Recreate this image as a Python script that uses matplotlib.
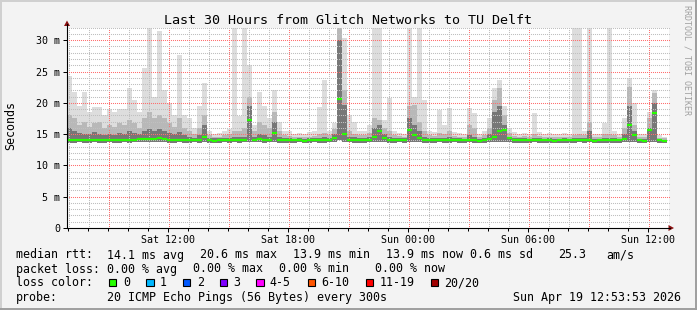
import numpy as np
import matplotlib.pyplot as plt
from matplotlib.patches import Rectangle, Polygon
from matplotlib.lines import Line2D
from matplotlib.transforms import IdentityTransform

W, H = 697, 310

# time axis: hours since Sat 00:00, 15 minute bins
t_start = 6.94
t_end = 37.04
bin_h = 0.25

# round trip times in ms, one value per bin
rtt_median = [
    14.1, 14.0, 14.0, 14.1, 14.0, 14.0, 14.1, 14.0, 14.0, 14.1, 14.0, 14.1,
    14.0, 14.1, 14.2, 14.2, 14.2, 14.2, 14.3, 14.2, 14.1, 14.1, 14.1, 14.0,
    14.0, 14.0, 14.1, 14.5, 14.0, 13.9, 14.0, 14.0, 14.0, 14.1, 14.0, 14.1,
    17.2, 14.1, 14.2, 14.1, 14.1, 15.2, 14.1, 14.0, 14.0, 14.0, 14.0, 13.9,
    14.0, 14.0, 14.0, 14.0, 14.0, 14.3, 20.6, 15.0, 14.1, 14.1, 14.0, 14.0,
    14.1, 14.6, 15.5, 14.3, 14.1, 14.0, 14.0, 14.0, 15.7, 14.8, 14.3, 14.1,
    14.1, 14.0, 14.0, 14.0, 14.0, 14.0, 14.0, 14.0, 14.1, 14.0, 13.9, 14.0,
    14.2, 14.6, 15.5, 15.7, 14.3, 14.0, 14.0, 14.0, 14.0, 14.0, 14.0, 14.0,
    14.0, 13.9, 14.0, 14.0, 14.0, 14.0, 14.0, 14.0, 14.1, 13.9, 14.0, 14.0,
    14.0, 14.0, 14.0, 14.2, 16.5, 14.8, 14.0, 13.9, 15.7, 18.4, 14.0, 13.9,
]
rtt_max = [
    24.3, 21.8, 19.5, 21.8, 18.5, 19.4, 19.3, 18.0, 19.0, 18.5, 19.0, 19.0,
    22.4, 20.5, 18.5, 25.5, 32.0, 21.0, 31.4, 22.0, 19.9, 18.0, 27.6, 18.0,
    17.5, 16.0, 19.5, 23.1, 15.5, 15.0, 15.2, 15.5, 15.8, 32.0, 17.9, 32.0,
    26.0, 16.5, 21.8, 19.5, 17.5, 22.0, 17.0, 15.5, 15.5, 15.0, 15.2, 15.0,
    15.3, 15.5, 19.4, 23.7, 15.5, 16.8, 32.0, 30.4, 18.0, 17.0, 15.5, 15.5,
    16.5, 32.0, 32.0, 17.3, 20.8, 15.5, 15.2, 15.0, 32.0, 21.0, 32.0, 20.5,
    15.5, 15.3, 18.9, 16.5, 19.2, 15.3, 15.2, 15.0, 19.2, 18.4, 15.0, 15.5,
    17.6, 22.4, 23.7, 19.5, 16.0, 15.3, 15.0, 15.2, 15.0, 18.4, 15.3, 15.0,
    15.2, 15.0, 15.0, 15.2, 15.0, 32.0, 32.0, 15.5, 32.0, 15.0, 15.0, 16.8,
    32.0, 15.5, 15.0, 17.5, 24.0, 20.0, 15.0, 15.0, 18.5, 22.0, 14.8, 14.6,
]
rtt_upper = [
    18.0, 17.5, 16.5, 17.0, 16.2, 16.8, 17.0, 16.0, 16.5, 16.2, 16.8, 16.5,
    17.2, 16.8, 16.0, 17.5, 18.5, 17.5, 18.0, 17.5, 16.8, 16.2, 17.5, 16.0,
    15.5, 15.0, 16.0, 18.0, 14.8, 14.6, 14.6, 14.8, 15.0, 15.5, 15.5, 16.0,
    21.0, 15.5, 17.0, 16.5, 16.0, 18.5, 15.5, 14.8, 14.7, 14.5, 14.6, 14.5,
    14.6, 14.7, 15.0, 15.2, 14.8, 15.8, 32.0, 22.0, 15.5, 15.0, 14.8, 14.8,
    15.2, 17.5, 17.3, 16.0, 15.5, 14.8, 14.7, 14.6, 19.5, 19.7, 17.0, 15.5,
    14.8, 14.7, 15.2, 15.0, 15.5, 14.7, 14.6, 14.6, 16.5, 16.0, 14.6, 14.8,
    16.0, 20.5, 22.4, 18.0, 15.2, 14.7, 14.6, 14.7, 14.6, 15.0, 14.7, 14.6,
    14.6, 14.6, 14.5, 14.6, 14.6, 14.8, 15.0, 14.8, 17.0, 14.6, 14.6, 15.0,
    15.0, 14.8, 14.6, 16.0, 22.5, 16.5, 14.6, 14.6, 17.5, 21.6, 14.4, 14.3,
]
rtt_dark = [
    16.0, 15.5, 15.2, 15.0, 15.0, 15.3, 15.0, 14.8, 15.0, 14.9, 15.2, 15.0,
    15.5, 15.2, 15.0, 15.5, 15.8, 15.5, 15.8, 15.5, 15.2, 15.0, 15.3, 14.8,
    14.6, 14.4, 14.8, 16.5, 14.4, 14.3, 14.3, 14.3, 14.4, 14.5, 14.5, 14.6,
    19.5, 14.5, 15.0, 14.8, 14.6, 17.0, 14.5, 14.3, 14.3, 14.2, 14.3, 14.2,
    14.3, 14.3, 14.4, 14.5, 14.4, 15.0, 30.0, 19.7, 14.6, 14.5, 14.3, 14.3,
    14.5, 16.0, 16.5, 15.0, 14.6, 14.3, 14.3, 14.3, 17.5, 16.5, 15.5, 14.6,
    14.3, 14.3, 14.4, 14.4, 14.5, 14.3, 14.3, 14.2, 14.8, 14.6, 14.2, 14.3,
    15.0, 18.5, 19.5, 16.5, 14.6, 14.3, 14.3, 14.3, 14.2, 14.4, 14.3, 14.2,
    14.3, 14.2, 14.2, 14.3, 14.2, 14.3, 14.4, 14.3, 15.5, 14.2, 14.2, 14.4,
    14.4, 14.3, 14.2, 15.0, 19.5, 15.5, 14.2, 14.2, 16.0, 20.0, 14.2, 14.1,
]
rtt_min = [
    13.6, 13.6, 13.7, 13.6, 13.6, 13.7, 13.6, 13.6, 13.7, 13.6, 13.6, 13.7,
    13.6, 13.7, 13.7, 13.7, 13.8, 13.7, 13.7, 13.7, 13.6, 13.6, 13.7, 13.6,
    13.6, 13.7, 13.6, 13.8, 13.6, 13.6, 13.6, 13.7, 13.6, 13.7, 13.6, 13.7,
    13.8, 13.7, 13.7, 13.6, 13.7, 13.8, 13.6, 13.6, 13.6, 13.6, 13.7, 13.6,
    13.6, 13.7, 13.6, 13.6, 13.7, 13.8, 14.0, 13.8, 13.7, 13.6, 13.6, 13.6,
    13.7, 13.8, 13.8, 13.7, 13.6, 13.6, 13.7, 13.6, 13.8, 13.8, 13.7, 13.6,
    13.6, 13.6, 13.7, 13.6, 13.6, 13.7, 13.6, 13.6, 13.7, 13.6, 13.5, 13.6,
    13.7, 13.8, 13.8, 13.8, 13.7, 13.6, 13.6, 13.6, 13.6, 13.7, 13.6, 13.6,
    13.6, 13.5, 13.6, 13.6, 13.6, 13.6, 13.7, 13.6, 13.7, 13.5, 13.6, 13.6,
    13.6, 13.6, 13.6, 13.7, 13.8, 13.8, 13.6, 13.5, 13.8, 13.8, 13.6, 13.5,
]

x_label_hours = [12, 18, 24, 30, 36]
x_labels = ["Sat 12:00", "Sat 18:00", "Sun 00:00", "Sun 06:00", "Sun 12:00"]
y_ticks = [0, 5, 10, 15, 20, 25, 30]
y_labels = ["0", "5 m", "10 m", "15 m", "20 m", "25 m", "30 m"]

loss_names = ["0", "1", "2", "3", "4-5", "6-10", "11-19", "20/20"]
loss_colors = ["#26ff00", "#00b8ff", "#0059ff", "#7e00ff", "#ff00ff",
               "#ff5500", "#ff0000", "#a10000"]

title = "Last 30 Hours from Glitch Networks to TU Delft"
stats_rtt = ["median rtt:", "14.1 ms avg", "20.6 ms max", "13.9 ms min",
             "13.9 ms now", "0.6 ms sd", "25.3", "am/s"]
stats_loss = ["packet loss:", "0.00 % avg", "0.00 % max", "0.00 % min",
              "0.00 % now"]
probe_text = "20 ICMP Echo Pings (56 Bytes) every 300s"
stamp = "Sun Apr 19 12:53:53 2026"

plt.rcParams['font.family'] = ['DejaVu Sans Mono']

fig = plt.figure(figsize=(W / 100, H / 100), dpi=100, facecolor='#f3f3f3')


def fx(x):
    return x / W


def fy(y):
    return 1 - y / H


ax_l, ax_r, ax_t, ax_b = 67, 669, 27.7, 228
ax = fig.add_axes([fx(ax_l), fy(ax_b), (ax_r - ax_l) / W, (ax_b - ax_t) / H])
ax.set_facecolor('white')
ax.set_xlim(t_start, t_end)
ax.set_ylim(0, 32)
for s in ax.spines.values():
    s.set_visible(False)

edges = t_start + bin_h * np.arange(len(rtt_median) + 1)


def smoke(lo, hi, color):
    lo = np.append(lo, lo[-1])
    hi = np.append(hi, hi[-1])
    ax.fill_between(edges, lo, hi, step='post', color=color, linewidth=0, zorder=1)


smoke(rtt_min, rtt_max, '#dddddd')
smoke(rtt_min, rtt_upper, '#b8b8b8')
smoke(rtt_min, rtt_dark, '#777777')

# dotted grid, one pixel on / one off, drawn over the smoke like rrdtool does
px_per_h = (ax_r - ax_l) / (t_end - t_start)
px_per_ms = (ax_b - ax_t) / 32


def dots(xs, ys, color):
    ax.plot(xs, ys, transform=IdentityTransform(), ls='none', marker='s', ms=0.75,
            mew=0, color=color, antialiased=False, zorder=2, clip_on=False)


row_x = np.arange(68, ax_r, 2) + 0.5
col_y = np.arange(29, ax_b, 2) + 0.5
for h in range(7, 37):
    c = '#ff7070' if h % 3 == 0 else '#c0c0c0'
    xp = int(round(ax_l + (h - t_start) * px_per_h)) + 0.5
    dots(np.full(col_y.size, xp), H - col_y, c)
for v in range(1, 33):
    c = '#ff7070' if v % 5 == 0 else '#c0c0c0'
    yp = int(round(ax_b - v * px_per_ms)) - 0.5
    dots(row_x, np.full(row_x.size, H - yp), c)

ax.hlines(rtt_median, edges[:-1], edges[1:], colors=loss_colors[0], lw=1.6, zorder=4)

ax.set_xticks(x_label_hours, x_labels)
ax.set_xticks(range(7, 37), minor=True)
ax.set_yticks(y_ticks, y_labels)
ax.tick_params(axis='both', which='major', direction='out', length=3, width=0.72,
               color='#000000', labelsize=7.2, pad=2)
ax.tick_params(axis='x', which='minor', direction='out', length=2, width=0.72,
               color='#000000')
ax.tick_params(axis='y', which='major', pad=2)

# axes with arrows
fig.add_artist(Line2D([fx(67), fx(67)], [fy(228), fy(24)], color='black', lw=0.8))
fig.add_artist(Line2D([fx(67), fx(670)], [fy(228), fy(228)], color='black', lw=0.8))
fig.add_artist(Polygon([[fx(67), fy(20.5)], [fx(64), fy(26)], [fx(70), fy(26)]],
                       closed=True, color='#8b1010', lw=0))
fig.add_artist(Polygon([[fx(674), fy(228)], [fx(668.5), fy(225)], [fx(668.5), fy(231)]],
                       closed=True, color='#8b1010', lw=0))

# frame
fig.add_artist(Line2D([0, 1], [fy(1), fy(1)], color='#d0d0d0', lw=1.4))
fig.add_artist(Line2D([fx(1), fx(1)], [0, 1], color='#d0d0d0', lw=1.4))
fig.add_artist(Line2D([0, 1], [fy(309), fy(309)], color='#9e9e9e', lw=1.4))
fig.add_artist(Line2D([fx(696), fx(696)], [0, 1], color='#9e9e9e', lw=1.4))

fig.text(0.5, fy(24), title, ha='center', va='baseline', fontsize=9.6)
fig.text(fx(11), fy(126), "Seconds", rotation=90, ha='center', va='center', fontsize=8.4)
fig.text(fx(687), fy(60), "RRDTOOL / TOBI OETIKER", rotation=270, ha='center',
         va='center', fontsize=6, color='#a0a0a0')

lx = 15.5
rtt_x = [lx, 106.8, 199.5, 292.8, 386, 469.5, 557.8, 606.2]
for s, x in zip(stats_rtt, rtt_x):
    fig.text(fx(x), fy(258.5), s, fontsize=8.4, va='baseline')
loss_x = [lx, 106.8, 192.8, 278.8, 374.5]
for s, x in zip(stats_loss, loss_x):
    fig.text(fx(x), fy(272.5), s, fontsize=8.4, va='baseline')

fig.text(fx(lx), fy(286.5), "loss color:", fontsize=8.4, va='baseline')
sq_x = [108.5, 146, 182.5, 219.5, 256, 307.5, 365.5, 430.5]
lab_x = [122.8, 159.8, 196.8, 233, 269.8, 321.5, 379.5, 444.5]
for name, col, sx, tx in zip(loss_names, loss_colors, sq_x, lab_x):
    fig.add_artist(Rectangle((fx(sx), fy(286)), 7.5 / W, 7.5 / H, facecolor=col,
                             edgecolor='black', lw=0.8))
    fig.text(fx(tx), fy(286.5), name, fontsize=8.4, va='baseline')

fig.text(fx(lx), fy(300.5), "probe:", fontsize=8.4, va='baseline')
fig.text(fx(106.8), fy(300.5), probe_text, fontsize=8.4, va='baseline')
fig.text(fx(513), fy(300.5), stamp, fontsize=8.4, va='baseline')

fig.savefig('out.png', dpi=100, facecolor=fig.get_facecolor())
